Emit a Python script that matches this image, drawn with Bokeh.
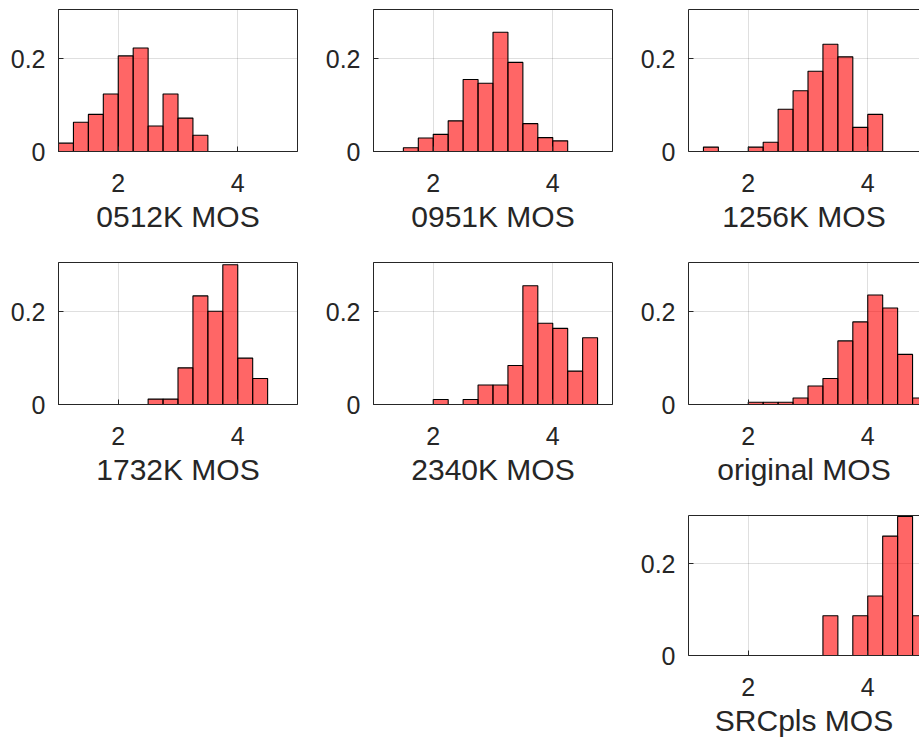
from bokeh.plotting import figure
from bokeh.models import Range1d, FixedTicker, LinearAxis, ColumnDataSource, Spacer
from bokeh.layouts import row, column
from bokeh.embed import file_html
from bokeh.resources import INLINE

# ---------------- data ----------------
BIN_EDGES = [1.0, 1.25, 1.5, 1.75, 2.0, 2.25, 2.5, 2.75, 3.0, 3.25, 3.5,
             3.75, 4.0, 4.25, 4.5, 4.75, 5.0]

MOS_0512K = [0.018, 0.063, 0.080, 0.124, 0.206, 0.223, 0.055, 0.124,
             0.072, 0.035, 0, 0, 0, 0, 0, 0]
MOS_0951K = [0, 0, 0.008, 0.029, 0.037, 0.066, 0.155, 0.147,
             0.257, 0.192, 0.060, 0.030, 0.023, 0, 0, 0]
MOS_1256K = [0, 0.0095, 0, 0, 0.0095, 0.020, 0.091, 0.131,
             0.173, 0.231, 0.204, 0.052, 0.080, 0, 0, 0]
MOS_1732K = [0, 0, 0, 0, 0, 0, 0.0116, 0.0116,
             0.079, 0.234, 0.201, 0.301, 0.100, 0.056, 0, 0]
MOS_2340K = [0, 0, 0, 0, 0.0108, 0, 0.0108, 0.042,
             0.042, 0.084, 0.256, 0.175, 0.164, 0.072, 0.144, 0]
MOS_ORIGINAL = [0, 0, 0, 0, 0.005, 0.005, 0.005, 0.014,
                0.040, 0.056, 0.137, 0.178, 0.236, 0.208, 0.108, 0.014]
MOS_SRCPLS = [0, 0, 0, 0, 0, 0, 0, 0,
              0, 0.087, 0, 0.087, 0.130, 0.261, 0.304, 0.087]

X_LABELS = ["0512K MOS", "0951K MOS", "1256K MOS", "1732K MOS",
            "2340K MOS", "original MOS", "SRCpls MOS"]
SERIES = [MOS_0512K, MOS_0951K, MOS_1256K, MOS_1732K, MOS_2340K,
          MOS_ORIGINAL, MOS_SRCPLS]

X_TICKS = [2, 4]
X_TICK_LABELS = ["2", "4"]
Y_TICKS = [0, 0.2]
Y_TICK_LABELS = ["0", "0.2"]
X_LIMITS = (1, 5)
Y_LIMITS = (0, 0.306)

# ---------------- style ----------------
FONT = "Liberation Sans"
TXT = "#262626"
TICK_FS = "25px"
LABEL_FS = "30px"


def make_panel(values, label, right_cut=False, last_row=False):
    left_b = 58
    frame_w = 239
    top_b = 9
    frame_h = 142
    if right_cut:
        width = 289
        right_b = 0
        x_end = X_LIMITS[0] + (width - left_b) / frame_w * (X_LIMITS[1] - X_LIMITS[0])
    else:
        width = 315
        right_b = width - left_b - frame_w
        x_end = X_LIMITS[1]
    height = 233 if last_row else 253
    p = figure(width=width, height=height, output_backend="svg",
               toolbar_location=None, tools="",
               x_range=Range1d(X_LIMITS[0], x_end),
               y_range=Range1d(*Y_LIMITS),
               min_border_left=left_b, min_border_right=right_b,
               min_border_top=top_b, min_border_bottom=height - top_b - frame_h,
               background_fill_color="white", border_fill_color="white")
    lefts, rights, tops = [], [], []
    for i, v in enumerate(values):
        if v > 0:
            lefts.append(BIN_EDGES[i])
            rights.append(BIN_EDGES[i + 1])
            tops.append(v)
    src = ColumnDataSource(dict(left=lefts, right=rights, top=tops,
                                bottom=[0] * len(tops)))
    p.quad(left="left", right="right", top="top", bottom="bottom", source=src,
           fill_color="#ff0000", fill_alpha=0.6,
           line_color="#000000", line_width=1.1)

    # axes (configure below/left before adding any extra axis)
    xa = p.below[0]
    ya = p.left[0]
    xa.ticker = FixedTicker(ticks=X_TICKS)
    xa.major_label_overrides = {t: s for t, s in zip(X_TICKS, X_TICK_LABELS)}
    ya.ticker = FixedTicker(ticks=Y_TICKS)
    ya.major_label_overrides = {t: s for t, s in zip(Y_TICKS, Y_TICK_LABELS)}
    for ax in (xa, ya):
        ax.axis_line_color = TXT
        ax.major_tick_line_color = TXT
        ax.major_tick_in = 5
        ax.major_tick_out = 0
        ax.minor_tick_line_color = None
        ax.major_label_text_font = FONT
        ax.major_label_text_font_size = TICK_FS
        ax.major_label_text_color = TXT
    xa.major_label_standoff = 22
    ya.major_label_standoff = 13
    xa.axis_label = label
    xa.axis_label_text_font = FONT
    xa.axis_label_text_font_size = LABEL_FS
    xa.axis_label_text_font_style = "normal"
    xa.axis_label_text_color = TXT
    xa.axis_label_standoff = 5

    p.xgrid.ticker = FixedTicker(ticks=X_TICKS)
    p.ygrid.ticker = FixedTicker(ticks=[0.2])
    for g in (p.xgrid[0], p.ygrid[0]):
        g.grid_line_color = TXT
        g.grid_line_alpha = 0.15

    if right_cut:
        p.outline_line_color = None
        top_ax = LinearAxis(ticker=FixedTicker(ticks=[]),
                            major_label_standoff=0,
                            major_tick_in=0, major_tick_out=0,
                            minor_tick_line_color=None,
                            axis_line_color=TXT, major_tick_line_color=None)
        p.add_layout(top_ax, "above")
    else:
        p.outline_line_color = TXT
        p.outline_line_alpha = 1.0
    return p


panels = []
for k in range(7):
    panels.append(make_panel(SERIES[k], X_LABELS[k],
                             right_cut=(k in (2, 5, 6)),
                             last_row=(k == 6)))

layout = column(
    row(panels[0], panels[1], panels[2]),
    row(panels[3], panels[4], panels[5]),
    row(Spacer(width=630, height=233), panels[6]),
)

open("out.html", "w").write(file_html(layout, INLINE))
